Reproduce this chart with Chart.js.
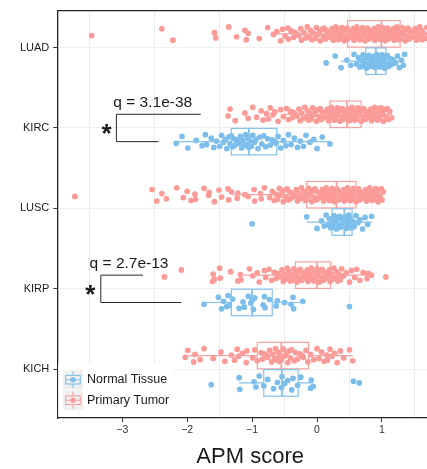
<!DOCTYPE html>
<html><head><meta charset="utf-8">
<script src="https://cdn.jsdelivr.net/npm/chart.js@4.4.1/dist/chart.umd.min.js"></script>
<style>
html,body{margin:0;padding:0;overflow:hidden;background:#fff;width:427px;height:469px}
#wrap{width:447px;height:469px;position:relative}
</style></head>
<body><div id="wrap"><canvas id="c" width="447" height="469"></canvas></div>
<script>
// ---------- data ----------
const categories = ['LUAD','KIRC','LUSC','KIRP','KICH'];
const groupNames = ['Normal Tissue','Primary Tumor'];
const xTickValues = [-3,-2,-1,0,1];
const xTickLabels = ['\u22123','\u22122','\u22121','0','1'];
const xGridValues = [-3.5,-2.5,-1.5,-0.5,0.5,1.5];

// box stats: [lower whisker, Q1, median, Q3, upper whisker]
const tumorStats = [
  [-0.72, 0.47, 0.99, 1.28, 2.20],
  [-0.52, 0.20, 0.46, 0.68, 1.15],
  [-1.30, -0.16, 0.30, 0.60, 1.02],
  [-1.13, -0.33, 0.00, 0.21, 0.84],
  [-2.03, -0.92, -0.55, -0.13, 0.55]
];
const normalStats = [
  [0.37, 0.75, 0.905, 1.06, 1.35],
  [-2.17, -1.32, -1.05, -0.62, 0.20],
  [-0.16, 0.23, 0.42, 0.54, 0.84],
  [-1.74, -1.32, -1.00, -0.69, -0.22],
  [-1.20, -0.82, -0.54, -0.29, -0.06]
];

// APM scores of individual samples
const luadTumor = [-3.47,-2.39,-2.22,-1.58,-1.56,-1.36,-1.24,-1.11,-1.09,-1.06,-0.89,-0.76,-0.67,-0.62,-0.56,-0.53,-0.49,-0.45,-0.44,-0.40,-0.36,-0.35,-0.31,-0.28,-0.25,-0.24,-0.20,-0.17,-0.15,-0.12,-0.10,-0.08,-0.05,-0.03,-0.01,0.02,0.04,0.05,0.08,0.10,0.11,0.13,0.15,0.17,0.18,0.20,0.22,0.23,0.25,0.26,0.28,0.29,0.31,0.32,0.33,0.35,0.36,0.38,0.39,0.40,0.42,0.43,0.45,0.46,0.47,0.49,0.50,0.52,0.53,0.54,0.56,0.57,0.59,0.60,0.61,0.63,0.64,0.66,0.67,0.68,0.70,0.71,0.73,0.74,0.75,0.77,0.78,0.80,0.81,0.82,0.84,0.85,0.87,0.88,0.89,0.91,0.92,0.94,0.95,0.96,0.98,0.99,1.00,1.01,1.03,1.04,1.05,1.07,1.08,1.09,1.10,1.12,1.13,1.14,1.16,1.17,1.18,1.19,1.21,1.22,1.23,1.25,1.26,1.27,1.28,1.30,1.31,1.33,1.34,1.36,1.37,1.39,1.40,1.42,1.43,1.45,1.46,1.48,1.50,1.51,1.53,1.54,1.56,1.58,1.59,1.61,1.62,1.64,1.66,1.69,1.72,1.76,1.81,1.88];
const luadNormal = [0.14,0.28,0.37,0.46,0.52,0.57,0.61,0.64,0.66,0.68,0.70,0.71,0.73,0.74,0.76,0.77,0.78,0.80,0.81,0.82,0.83,0.85,0.86,0.87,0.88,0.89,0.90,0.91,0.92,0.93,0.95,0.96,0.97,0.98,1.00,1.01,1.02,1.04,1.05,1.07,1.08,1.10,1.12,1.14,1.16,1.18,1.21,1.24,1.27,1.30,1.33,1.35];
const kircTumor = [-1.37,-1.34,-1.26,-1.11,-1.06,-0.99,-0.93,-0.86,-0.83,-0.78,-0.75,-0.72,-0.68,-0.65,-0.60,-0.56,-0.52,-0.47,-0.44,-0.41,-0.38,-0.36,-0.33,-0.31,-0.28,-0.26,-0.24,-0.21,-0.19,-0.17,-0.15,-0.13,-0.11,-0.09,-0.07,-0.05,-0.03,-0.01,0.01,0.03,0.05,0.06,0.08,0.10,0.11,0.13,0.15,0.16,0.18,0.19,0.20,0.22,0.23,0.25,0.26,0.28,0.29,0.31,0.32,0.33,0.35,0.36,0.38,0.39,0.40,0.42,0.43,0.44,0.46,0.47,0.48,0.50,0.51,0.52,0.54,0.55,0.57,0.58,0.60,0.61,0.63,0.64,0.66,0.68,0.69,0.71,0.72,0.74,0.75,0.77,0.78,0.80,0.81,0.83,0.84,0.86,0.87,0.89,0.90,0.92,0.93,0.95,0.96,0.98,0.99,1.01,1.02,1.04,1.06,1.08,1.10,1.12,1.15];
const kircNormal = [-2.17,-2.08,-1.99,-1.86,-1.77,-1.72,-1.70,-1.63,-1.59,-1.55,-1.50,-1.47,-1.44,-1.41,-1.39,-1.36,-1.34,-1.32,-1.30,-1.28,-1.26,-1.24,-1.22,-1.20,-1.18,-1.16,-1.14,-1.12,-1.10,-1.08,-1.06,-1.05,-1.03,-1.01,-0.99,-0.96,-0.94,-0.91,-0.88,-0.85,-0.82,-0.79,-0.76,-0.72,-0.69,-0.66,-0.63,-0.60,-0.56,-0.52,-0.48,-0.44,-0.40,-0.35,-0.30,-0.26,-0.21,-0.17,-0.11,-0.05,0.00,0.08,0.20];
const luscTumor = [-3.73,-2.54,-2.47,-2.39,-2.32,-2.16,-2.06,-2.00,-1.94,-1.88,-1.87,-1.74,-1.67,-1.66,-1.58,-1.51,-1.47,-1.37,-1.36,-1.32,-1.23,-1.22,-1.11,-1.06,-0.97,-0.96,-0.87,-0.86,-0.81,-0.73,-0.69,-0.66,-0.63,-0.61,-0.58,-0.56,-0.54,-0.52,-0.50,-0.48,-0.46,-0.44,-0.42,-0.40,-0.38,-0.36,-0.34,-0.32,-0.30,-0.28,-0.26,-0.24,-0.22,-0.20,-0.18,-0.17,-0.15,-0.13,-0.11,-0.10,-0.08,-0.06,-0.05,-0.03,-0.01,0.00,0.02,0.04,0.05,0.07,0.08,0.10,0.11,0.13,0.14,0.16,0.17,0.19,0.20,0.22,0.23,0.25,0.26,0.27,0.29,0.30,0.31,0.33,0.34,0.35,0.37,0.38,0.40,0.41,0.42,0.44,0.45,0.47,0.48,0.50,0.51,0.53,0.54,0.56,0.57,0.59,0.60,0.61,0.63,0.64,0.66,0.67,0.69,0.70,0.72,0.73,0.75,0.76,0.78,0.79,0.81,0.82,0.84,0.85,0.87,0.88,0.90,0.91,0.93,0.94,0.96,0.97,0.99,1.00,1.02];
const luscNormal = [-1.00,-0.16,0.00,0.07,0.11,0.14,0.17,0.19,0.21,0.23,0.24,0.26,0.27,0.29,0.30,0.32,0.33,0.35,0.36,0.38,0.39,0.40,0.41,0.42,0.43,0.45,0.46,0.47,0.49,0.50,0.51,0.53,0.55,0.57,0.60,0.63,0.66,0.70,0.74,0.78,0.84];
const kirpTumor = [-2.35,-2.09,-1.61,-1.60,-1.58,-1.50,-1.49,-1.33,-1.22,-1.18,-1.17,-1.04,-0.99,-0.92,-0.89,-0.81,-0.79,-0.74,-0.70,-0.66,-0.63,-0.61,-0.59,-0.56,-0.54,-0.52,-0.50,-0.48,-0.46,-0.44,-0.43,-0.41,-0.39,-0.37,-0.36,-0.34,-0.32,-0.31,-0.29,-0.28,-0.26,-0.24,-0.23,-0.21,-0.20,-0.18,-0.17,-0.15,-0.14,-0.12,-0.11,-0.09,-0.08,-0.06,-0.05,-0.03,-0.02,0.00,0.01,0.02,0.04,0.05,0.07,0.08,0.10,0.11,0.13,0.14,0.16,0.17,0.19,0.20,0.22,0.24,0.26,0.28,0.30,0.32,0.34,0.36,0.38,0.41,0.45,0.50,0.53,0.58,0.61,0.66,0.71,0.77,0.79,0.84,1.06];
const kirpNormal = [-1.74,-1.52,-1.47,-1.44,-1.39,-1.37,-1.35,-1.30,-1.20,-1.14,-1.12,-1.06,-1.02,-1.00,-0.98,-0.96,-0.83,-0.81,-0.80,-0.73,-0.63,-0.61,-0.50,-0.40,-0.37,-0.36,-0.22,0.50];
const kichTumor = [-2.03,-1.99,-1.90,-1.88,-1.80,-1.74,-1.60,-1.48,-1.42,-1.32,-1.27,-1.23,-1.21,-1.15,-1.09,-1.08,-0.99,-0.96,-0.92,-0.86,-0.84,-0.81,-0.77,-0.76,-0.73,-0.70,-0.68,-0.66,-0.64,-0.62,-0.60,-0.59,-0.57,-0.55,-0.52,-0.50,-0.47,-0.45,-0.43,-0.41,-0.39,-0.35,-0.33,-0.30,-0.26,-0.23,-0.21,-0.17,-0.14,-0.10,-0.05,0.00,0.03,0.07,0.11,0.15,0.16,0.20,0.23,0.27,0.31,0.36,0.41,0.50,0.55];
const kichNormal = [-1.63,-1.20,-1.19,-0.97,-0.94,-0.89,-0.82,-0.76,-0.67,-0.61,-0.55,-0.54,-0.50,-0.45,-0.39,-0.37,-0.30,-0.25,-0.10,-0.09,-0.06,0.56,0.65];

const tumorScores = [luadTumor, kircTumor, luscTumor, kirpTumor, kichTumor];
const normalScores = [luadNormal, kircNormal, luscNormal, kirpNormal, kichNormal];

// significance annotations
const qLabels = ['q = 3.1e-38', 'q = 2.7e-13'];
const qCategory = [1, 3];

// ---------- style / layout ----------
const DODGE = 0.17, BOX_HALF = 0.165, JITTER_SCALE = 0.72;
const JITTER = [0.03,-0.09,0.11,-0.02,0.07,-0.12,0.05,-0.06,0.10,-0.01,0.08,-0.11,0.01,-0.04,0.12,-0.08,0.04,-0.10,0.09,-0.05,0.06,-0.03,0.00];
const PINK_PT = '#FB9A97', PINK_LN = '#F6A0A0';
const BLUE_PT = '#7BBEEB', BLUE_LN = '#84C1EC';
const FONT = "'Liberation Sans', Arial, Helvetica, sans-serif";

function toPoints(scoreLists, offset) {
  const pts = [];
  scoreLists.forEach((list, ci) => {
    list.forEach((v, i) => pts.push({x: v, y: ci + offset + JITTER_SCALE * JITTER[i % JITTER.length]}));
  });
  return pts;
}

const boxPlugin = {
  id: 'boxes',
  afterDatasetsDraw(chart) {
    const {ctx, chartArea: ca, scales: {x, y}} = chart;
    ctx.save();
    ctx.beginPath(); ctx.rect(ca.left, ca.top, ca.right - ca.left, ca.bottom - ca.top); ctx.clip();
    const drawBox = (st, c, color) => {
      const [lo, q1, md, q3, hi] = st;
      const yc = y.getPixelForValue(c);
      const h = Math.abs(y.getPixelForValue(c + BOX_HALF) - yc);
      ctx.strokeStyle = color; ctx.lineWidth = 1.2;
      ctx.beginPath();
      ctx.moveTo(x.getPixelForValue(lo), yc); ctx.lineTo(x.getPixelForValue(q1), yc);
      ctx.moveTo(x.getPixelForValue(q3), yc); ctx.lineTo(x.getPixelForValue(hi), yc);
      ctx.stroke();
      ctx.strokeRect(x.getPixelForValue(q1), yc - h, x.getPixelForValue(q3) - x.getPixelForValue(q1), 2 * h);
      ctx.lineWidth = 1.8;
      ctx.beginPath();
      ctx.moveTo(x.getPixelForValue(md), yc - h); ctx.lineTo(x.getPixelForValue(md), yc + h);
      ctx.stroke();
    };
    categories.forEach((_, ci) => {
      drawBox(tumorStats[ci], ci - DODGE, PINK_LN);
      drawBox(normalStats[ci], ci + DODGE, BLUE_LN);
    });
    ctx.restore();

    // top border
    ctx.save();
    ctx.strokeStyle = '#222'; ctx.lineWidth = 1.3;
    ctx.beginPath(); ctx.moveTo(ca.left, ca.top); ctx.lineTo(ca.right, ca.top); ctx.stroke();
    ctx.restore();

    // significance brackets
    const ann = [
      {vx: -3.09, topEnd: -1.79, botEnd: -2.44, tx: -2.53, starX: -3.24},
      {vx: -3.33, topEnd: -2.68, botEnd: -2.09, tx: -2.895, starX: -3.49}
    ];
    ctx.save();
    ann.forEach((a, k) => {
      const c = qCategory[k];
      const yT = y.getPixelForValue(c - DODGE), yB = y.getPixelForValue(c + DODGE);
      ctx.strokeStyle = '#2a2a2a'; ctx.lineWidth = 1;
      ctx.beginPath();
      ctx.moveTo(x.getPixelForValue(a.topEnd), yT);
      ctx.lineTo(x.getPixelForValue(a.vx), yT);
      ctx.lineTo(x.getPixelForValue(a.vx), yB);
      ctx.lineTo(x.getPixelForValue(a.botEnd), yB);
      ctx.stroke();
      ctx.fillStyle = '#1a1a1a';
      ctx.font = '15.5px ' + FONT;
      ctx.textAlign = 'center'; ctx.textBaseline = 'alphabetic';
      ctx.fillText(qLabels[k], x.getPixelForValue(a.tx), y.getPixelForValue(c - 0.255));
      ctx.font = 'bold 26px ' + FONT;
      ctx.fillText('*', x.getPixelForValue(a.starX), y.getPixelForValue(c + 0.18));
    });
    ctx.restore();

    // legend
    ctx.save();
    const lx = ca.left + 1, ly = 363;
    ctx.fillStyle = '#ffffff';
    ctx.fillRect(lx, ly, 115, ca.bottom - ly - 1);
    const keys = [{c: BLUE_LN, p: BLUE_PT, cy: 379.7, t: groupNames[0]}, {c: PINK_LN, p: PINK_PT, cy: 400.2, t: groupNames[1]}];
    keys.forEach(k => {
      ctx.fillStyle = '#f0f0f0';
      ctx.fillRect(63, k.cy - 9.8, 20, 19.6);
      ctx.strokeStyle = k.c; ctx.lineWidth = 1.1;
      ctx.beginPath();
      ctx.moveTo(73, k.cy - 8.5); ctx.lineTo(73, k.cy - 4.3);
      ctx.moveTo(73, k.cy + 4.3); ctx.lineTo(73, k.cy + 8.5);
      ctx.moveTo(65.7, k.cy); ctx.lineTo(80.3, k.cy);
      ctx.stroke();
      ctx.strokeRect(65.7, k.cy - 4.3, 14.6, 8.6);
      ctx.fillStyle = k.p;
      ctx.beginPath(); ctx.arc(73, k.cy, 2.6, 0, Math.PI * 2); ctx.fill();
      ctx.fillStyle = '#1a1a1a';
      ctx.font = '12.5px ' + FONT;
      ctx.textAlign = 'left'; ctx.textBaseline = 'middle';
      ctx.fillText(k.t, 87, k.cy);
    });
    ctx.restore();
  }
};

new Chart(document.getElementById('c'), {
  type: 'scatter',
  data: {
    datasets: [
      {label: groupNames[1], data: toPoints(tumorScores, -DODGE), backgroundColor: PINK_PT, borderWidth: 0, pointRadius: 2.85},
      {label: groupNames[0], data: toPoints(normalScores, DODGE), backgroundColor: BLUE_PT, borderWidth: 0, pointRadius: 2.85}
    ]
  },
  options: {
    responsive: false, animation: false, devicePixelRatio: 1,
    layout: {padding: {top: 6, left: 0, right: 0, bottom: 0}},
    plugins: {legend: {display: false}, tooltip: {enabled: false}},
    events: [],
    scales: {
      x: {
        type: 'linear', min: -4.0, max: 1.94,
        afterBuildTicks: s => { s.ticks = [...xGridValues, ...xTickValues].sort((a, b) => a - b).map(v => ({value: v})); },
        afterFit: s => { s.height = 51; },
        ticks: {
          autoSkip: false, maxRotation: 0, minRotation: 0, padding: 2,
          color: '#333', font: {family: FONT, size: 10.5},
          callback: v => { const i = xTickValues.indexOf(v); return i >= 0 ? xTickLabels[i] : ''; }
        },
        grid: {
          color: c => (c.tick && xGridValues.includes(c.tick.value)) ? '#ebebeb' : 'rgba(0,0,0,0)',
          tickColor: c => (c.tick && xTickValues.includes(c.tick.value)) ? '#333' : 'rgba(0,0,0,0)',
          tickLength: 4, lineWidth: 1
        },
        border: {color: '#222', width: 1.3},
        title: {display: true, text: 'APM score', color: '#1a1a1a', font: {family: FONT, size: 22, lineHeight: 1}, padding: {top: 0, bottom: 1}}
      },
      y: {
        type: 'linear', reverse: true, min: -0.459, max: 4.606,
        afterBuildTicks: s => { s.ticks = categories.map((_, i) => ({value: i})); },
        afterFit: s => { s.width = 57.3; },
        ticks: {autoSkip: false, padding: 4, color: '#1a1a1a', font: {family: FONT, size: 11}, callback: v => categories[v]},
        grid: {color: '#efefef', tickColor: '#333', tickLength: 4, lineWidth: 1},
        border: {color: '#222', width: 1.3}
      }
    }
  },
  plugins: [boxPlugin]
});
</script>
</body></html>
